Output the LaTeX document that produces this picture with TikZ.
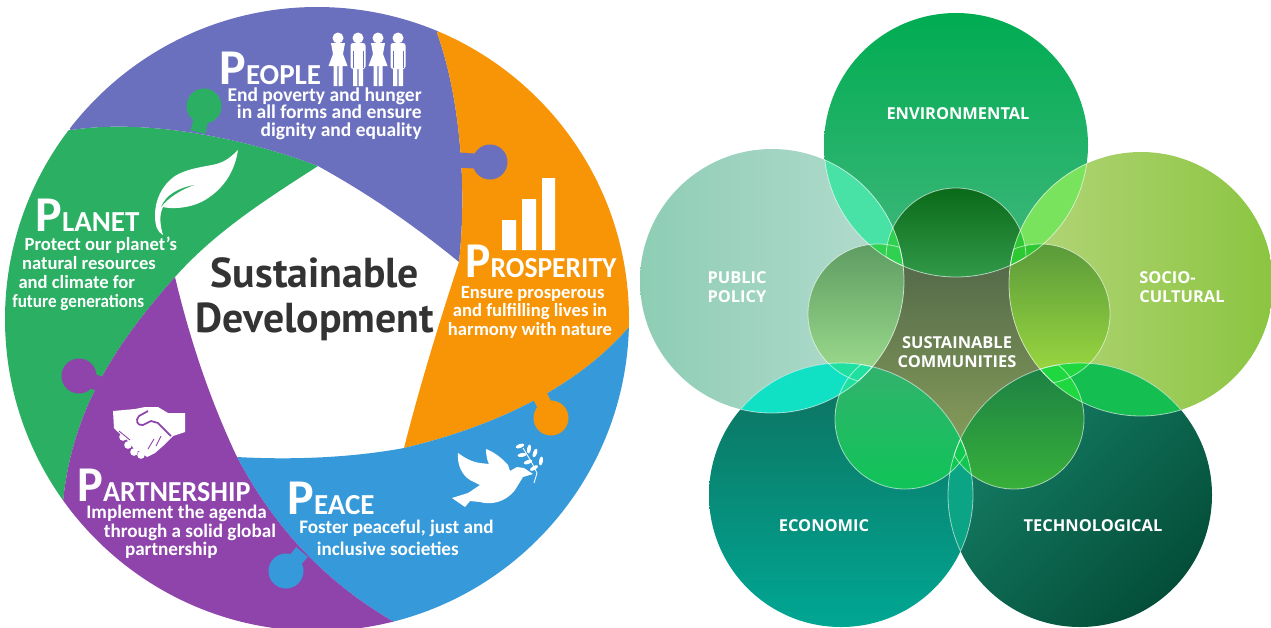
\documentclass[tikz,border=0pt]{standalone}
\usepackage{fontspec}
\usepackage{tikz}
\usetikzlibrary{calc,positioning}
\setmainfont{Carlito}
\newfontfamily\headfont{PT Sans}
\newfontfamily\labelfont{Open Sans}
\definecolor{peoplecol}{HTML}{6B70BE}
\definecolor{prospcol}{HTML}{F79507}
\definecolor{peacecol}{HTML}{369ADA}
\definecolor{partcol}{HTML}{8E44AB}
\definecolor{planetcol}{HTML}{2AAF63}
\newcommand{\capword}[3][1]{\scalebox{#1}[1]{{\fontsize{28.5}{29}\selectfont #2}{\fontsize{16.5}{16.5}\selectfont #3}}}
\tikzset{
   title/.style={text=white,font=\bfseries,inner sep=0,anchor=base west},
   body/.style={text=white,font=\bfseries\fontsize{#1}{10.2}\selectfont,inner sep=0},
   body/.default=10.8,
   petal/.style={text=white,font=\labelfont\bfseries\fontsize{9.35}{10.8}\selectfont,inner sep=0},
   knobline/.style={line width=0.3cm},
   seam/.style={draw=white,draw opacity=0.6,line width=0.45pt},
   manfig/.pic={
      \fill (0,-48) circle (5.5);
      \fill[rounded corners=1.5] (-7.5,-43) rectangle (7.5,-17);
      \fill (-5,-18) rectangle (-0.6,0) (0.6,-18) rectangle (5,0);
      \draw[peoplecol,line width=0.25pt] (-4.8,-35) -- (-4.8,-18) (4.8,-35) -- (4.8,-18);
   },
   womanfig/.pic={
      \fill (0,-48) circle (5.5);
      \fill (-7,-43) -- (7,-43) -- (5,-32) -- (9.5,-20) -- (-9.5,-20) -- (-5,-32) -- cycle;
      \fill (-4.5,-20) rectangle (-0.6,0) (0.6,-20) rectangle (4.5,0);
   }
}
\begin{document}
\begin{tikzpicture}[x=0.02cm,y=-0.02cm]
   \useasboundingbox (0,0) rectangle (1271,627);
   \coordinate (ptop) at (318,166);
   \coordinate (pright) at (459,262);
   \coordinate (pbr) at (404,448);
   \coordinate (pbl) at (237,457);
   \coordinate (pleft) at (175,277);
   \coordinate (greentop) at (71,130);
   \coordinate (orangetop) at (437,33);
   \coordinate (bluetop) at (629,327);
   \coordinate (bluebot) at (396,623);
   \coordinate (greenbot) at (63,502);

   \begin{scope}
      \clip (317,319) circle (312);
      \fill[planetcol] (ptop) .. controls (250,140) and (150,118) .. (greentop) -- (-20,130) -- (-20,520) -- (greenbot)
         .. controls (72,410) and (115,345) .. (pleft) .. controls (215,232) and (265,200) .. (ptop);
      \fill[peoplecol] (ptop) .. controls (250,140) and (150,118) .. (greentop) -- (30,90) -- (100,-20) -- (470,-20) -- (orangetop)
         .. controls (458,90) and (468,180) .. (pright) .. controls (410,222) and (365,192) .. (ptop);
      \fill[prospcol] (orangetop) .. controls (458,90) and (468,180) .. (pright) .. controls (440,320) and (420,385) .. (pbr)
         .. controls (480,430) and (570,395) .. (bluetop) -- (660,327) -- (660,-20) -- (470,-20) -- cycle;
      \fill[peacecol] (bluetop) .. controls (570,395) and (480,430) .. (pbr) .. controls (350,458) and (290,460) .. (pbl)
         .. controls (270,520) and (320,580) .. (bluebot) -- (420,660) -- (680,660) -- (680,327) -- cycle;
      \fill[partcol] (pleft) .. controls (190,340) and (210,400) .. (pbl) .. controls (270,520) and (320,580) .. (bluebot)
         -- (380,660) -- (-20,660) -- (-20,520) -- (greenbot) .. controls (72,410) and (115,345) .. (pleft);
      \foreach \cx/\cy/\nx/\ny/\col in {204/106/198/132/planetcol,490/162/458/160/peoplecol,551/418/540/396/prospcol,286/571/302/552/peacecol,79/376/100/384/partcol}{
         \fill[\col] (\cx,\cy) circle (17.5);
         \draw[\col,knobline] (\cx,\cy) -- (\nx,\ny);
      }
   \end{scope}

   \begin{scope}[white]
      \foreach \px/\fig in {338/womanfig,358/manfig,378/womanfig,398/manfig}{
         \pic[white] at (\px,86) {\fig};
      }
      \fill (502,220) rectangle (516,250) (522,199) rectangle (536,250) (542,178) rectangle (555,250);
      \fill (238,150) .. controls (228,160) and (222,163) .. (212,165) .. controls (195,168) and (185,170) .. (175,176)
         .. controls (162,185) and (155,200) .. (155,215) .. controls (155,225) and (157,232) .. (163,235)
         .. controls (160,225) and (159,215) .. (163,207) .. controls (170,209) and (190,209) .. (205,200)
         .. controls (225,188) and (235,170) .. (238,150);
      \fill[planetcol] (194,185) .. controls (178,188) and (166,195) .. (161,207) .. controls (168,198) and (180,190) .. (194,185);
      \fill (113,411) -- (135,409) -- (145,407) -- (158,407) -- (168,413) -- (185,413) -- (185,432) -- (173,436) -- (168,441)
         -- (163,446) -- (155,453) -- (147,457) -- (141,452) -- (135,450) -- (127,440) -- (118,432) -- (114,428) -- cycle;
      \foreach \kx/\ky in {123/437,128/445,134/452,141/455}{
         \fill (\kx,\ky) circle (3.8);
      }
      \draw[partcol,line width=1pt,line join=round] (148,411) -- (139,416) .. controls (135,420) and (137,426) .. (143,425)
         -- (151,421) -- (158,423) -- (171,436);
      \draw[partcol,line width=0.5pt] (119,431) -- (130,440) (154,439) -- (148,449) (161,436) -- (156,446);
      \fill (452,498) -- (465,507) -- (470,501) -- (480,502) .. controls (490,505) and (505,503) .. (515,490) -- (523,477)
         -- (533,474) -- (524,468) -- (517,467) -- (510,471) -- (508,465) .. controls (502,458) and (494,452) .. (486,449)
         .. controls (486,455) and (487,460) .. (489,464) -- (480,463) .. controls (472,462) and (465,458) .. (458,453)
         .. controls (457,465) and (462,475) .. (470,480) -- (480,485) -- (468,493) -- cycle;
      \draw[line width=0.5pt] (534,483) -- (537,473) -- (532,463) -- (523,448);
      \foreach \lx/\ly/\rot in {520/446/20,529/449/80,522/455/10,535/453/70,528/462/20,541/461/80,534/468/30}{
         \fill[rotate around={\rot:(\lx,\ly)}] (\lx,\ly) ellipse (4.5 and 2);
      }
   \end{scope}

   \node[title] (peopletitle) at (219,84) {\capword{P}{EOPLE}};
   \node[body=11.1,align=right,anchor=north east] (peopletext) at (422,87) {End poverty and hunger\\in all forms and ensure\\dignity and equality};
   \node[title] (planettitle) at (35,231) {\capword{P}{LANET}};
   \node[body=10.6,align=left,anchor=north west] (planettext) at (12,237) {\hspace*{7pt}Protect our planet's\\[0.5pt]\hspace*{5.5pt}natural resources\\[0.5pt]\hspace*{3.5pt}and climate for\\[0.5pt]\scalebox{.92}[1]{future generations}};
   \node[title] (prosptitle) at (465,277) {\capword[.95]{P}{ROSPERITY}};
   \node[body=10.6,align=center,anchor=north] (prosptext) at (530,286) {\hspace*{3pt}Ensure prosperous\\[0.3pt]and fulfilling lives in\\[0.3pt]harmony with nature};
   \node[title] (peacetitle) at (287,514) {\capword{P}{EACE}};
   \node[body=10.9,align=left,anchor=north west] (peacetext) at (299,520) {Foster peaceful, just and\\[2pt]\hspace*{10pt}inclusive societies};
   \node[title] (parttitle) at (77,501) {\capword[.967]{P}{ARTNERSHIP}};
   \node[body=10.9,align=left,anchor=north west] (parttext) at (86,505) {Implement the agenda\\[0.3pt]\hspace*{10pt}through a solid global\\[0.3pt]\hspace*{22pt}partnership};
   \node[font=\headfont\bfseries\fontsize{23.8}{25.5}\selectfont,text=black!80,align=center,inner sep=0] (susdev) at (315,299) {Sustainable\\Development};

   \coordinate (env) at (956,145);
   \coordinate (pol) at (772,281);
   \coordinate (soc) at (1141,284);
   \coordinate (eco) at (841,495);
   \coordinate (tec) at (1080,495);
   \coordinate (ienv) at (956,258);
   \coordinate (ipol) at (878,314);
   \coordinate (isoc) at (1040,314);
   \coordinate (ieco) at (905,419);
   \coordinate (itec) at (1014,419);

   \shade[top color={rgb,255:red,85;green,107;blue,74},bottom color={rgb,255:red,134;green,156;blue,90}] (860,266) rectangle (1050,445);
   \shade[top color={rgb,255:red,0;green,172;blue,82},bottom color={rgb,255:red,68;green,184;blue,126}] (env) circle (132);
   \shade[left color={rgb,255:red,142;green,205;blue,181},right color={rgb,255:red,181;green,220;blue,207}] (pol) circle (132);
   \shade[left color={rgb,255:red,181;green,214;blue,124},right color={rgb,255:red,139;green,197;blue,64}] (soc) circle (132);
   \shade[top color={rgb,255:red,14;green,112;blue,94},bottom color={rgb,255:red,0;green,167;blue,147}] (eco) circle (132);
   \shade[bottom color={rgb,255:red,4;green,78;blue,56},top color={rgb,255:red,22;green,128;blue,104},shading angle=45] (tec) circle (132);

   \definecolor{domeatop}{HTML}{0A6A1A}
   \definecolor{domeabot}{HTML}{48B462}
   \definecolor{domebtop}{HTML}{5E9C62}
   \definecolor{domebbot}{HTML}{A0E090}
   \definecolor{domectop}{HTML}{5A9A3A}
   \definecolor{domecbot}{HTML}{A0DC40}
   \definecolor{domedtop}{HTML}{36B070}
   \definecolor{domedbot}{HTML}{10C458}
   \definecolor{domeetop}{HTML}{187A45}
   \definecolor{domeebot}{HTML}{38B03A}
   \foreach \outer/\inner/\ctop/\cbot in {env/ienv/domeatop/domeabot,pol/ipol/domebtop/domebbot,soc/isoc/domectop/domecbot,eco/ieco/domedtop/domedbot,tec/itec/domeetop/domeebot}{
      \begin{scope}
         \clip (\outer) circle (132);
         \shade[top color=\ctop,bottom color=\cbot] (\inner) circle (70);
      \end{scope}
   }

   \definecolor{lensa}{HTML}{48E2A6}
   \definecolor{lensb}{HTML}{7AE35E}
   \definecolor{lensc}{HTML}{10E0C4}
   \definecolor{lensd}{HTML}{14BE50}
   \definecolor{lense}{HTML}{0BA585}
   \definecolor{brighta}{HTML}{30D050}
   \definecolor{brightb}{HTML}{2EC832}
   \definecolor{brightc}{HTML}{20E0A0}
   \definecolor{brightd}{HTML}{1FD840}
   \definecolor{brighte}{HTML}{10C850}
   \foreach \a/\b/\c/\d/\lens/\bright in {env/pol/ienv/ipol/lensa/brighta,env/soc/ienv/isoc/lensb/brightb,pol/eco/ipol/ieco/lensc/brightc,soc/tec/isoc/itec/lensd/brightd,eco/tec/ieco/itec/lense/brighte}{
      \begin{scope}
         \clip (\a) circle (132);
         \clip (\b) circle (132);
         \fill[\lens] (0,0) rectangle (1271,627);
         \fill[\bright] (\c) circle (70) (\d) circle (70);
      \end{scope}
      \begin{scope}
         \clip (\a) circle (132);
         \draw[seam] (\b) circle (132);
      \end{scope}
      \begin{scope}
         \clip (\b) circle (132);
         \draw[seam] (\a) circle (132);
      \end{scope}
   }
   \foreach \outer/\inner in {env/ienv,pol/ipol,soc/isoc,eco/ieco,tec/itec}{
      \begin{scope}
         \clip (\outer) circle (132);
         \draw[seam] (\inner) circle (70);
      \end{scope}
      \begin{scope}
         \clip (\inner) circle (70);
         \draw[seam] (\outer) circle (132);
      \end{scope}
   }

   \node[petal] (envlabel) at (958,114) {ENVIRONMENTAL};
   \node[petal,align=left] (pollabel) at (737,287) {PUBLIC\\POLICY};
   \node[petal,align=left,anchor=west] (soclabel) at (1139,287) {SOCIO-\\CULTURAL};
   \node[petal] (ecolabel) at (824,526) {ECONOMIC};
   \node[petal] (teclabel) at (1093,526) {TECHNOLOGICAL};
   \node[petal,align=center] (commlabel) at (957,352) {SUSTAINABLE\\COMMUNITIES};
\end{tikzpicture}
\end{document}
